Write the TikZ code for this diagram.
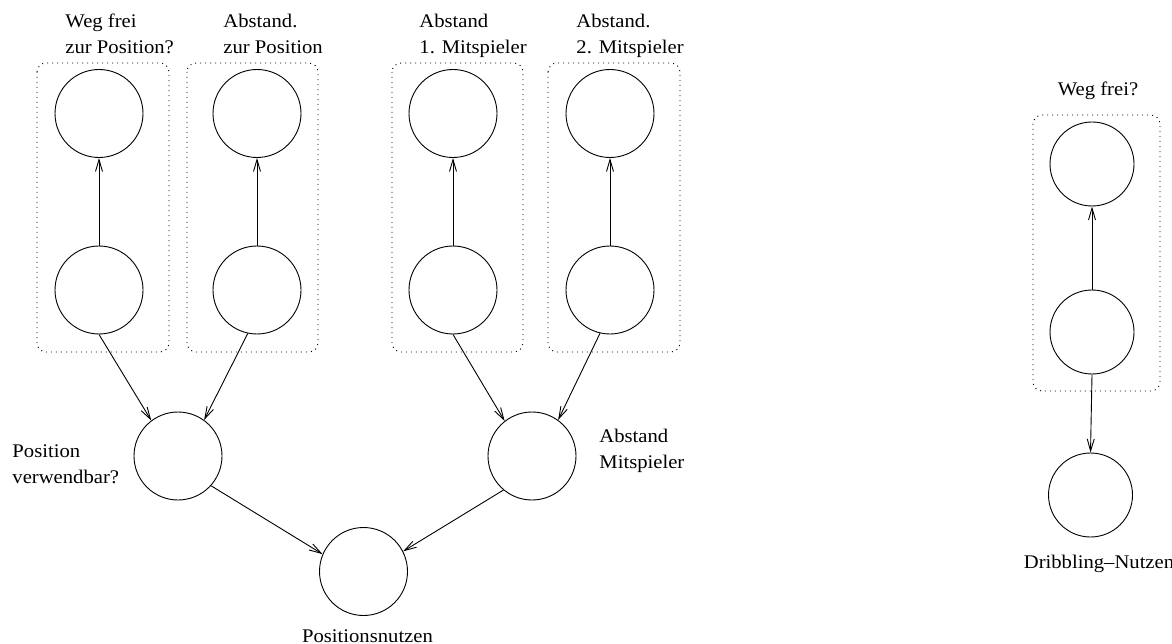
\documentclass[tikz,border=0pt]{standalone}
\usepackage{fontspec}
\usetikzlibrary{arrows.meta}
\newfontfamily\labfont[FakeStretch=1.07]{Liberation Serif}
\begin{document}
\begin{tikzpicture}[x=1pt,y=-1pt,
  every path/.style={line width=0.9pt},
  nd/.style={draw,circle,minimum size=88pt,inner sep=0pt},
  nds/.style={draw,circle,minimum size=84pt,inner sep=0pt},
  arr/.style={-{Straight Barb[length=12pt,width=7pt]}},
  dotbox/.style={draw,rounded corners=9pt,dash pattern=on 1pt off 4pt},
  lab/.style={font=\labfont\fontsize{19.3}{25.6}\selectfont,inner sep=0pt,align=left}]
\useasboundingbox (0,0) rectangle (1172,644);
% dotted groups
\draw[dotbox] (37,63) rectangle (169,352);
\draw[dotbox] (187,63) rectangle (318,352);
\draw[dotbox] (392,63) rectangle (523,352);
\draw[dotbox] (548,63) rectangle (680,352);
\draw[dotbox] (1033,115) rectangle (1160,391);
% nodes
\node[nd] (c1t) at (99,113.5) {};
\node[nd] (c1b) at (99,290) {};
\node[nd] (c2t) at (257,113.5) {};
\node[nd] (c2b) at (257,290) {};
\node[nd] (c3t) at (453,113.5) {};
\node[nd] (c3b) at (453,290) {};
\node[nd] (c4t) at (610,113.5) {};
\node[nd] (c4b) at (610,290) {};
\node[nd] (pv) at (178,456) {};
\node[nd] (am) at (532,456) {};
\node[nd] (pn) at (363.5,571.5) {};
\node[nds] (d1) at (1092,164) {};
\node[nds] (d2) at (1092,332) {};
\node[nds] (dn) at (1090.5,495) {};
% labels (base = baseline of last line)
\node[lab,anchor=base west] (l1) at (65,53.3) {Weg frei\\zur Position?};
\node[lab,anchor=base west] (l2) at (223,53.3) {Abstand.\\zur Position};
\node[lab,anchor=base west] (l3) at (419,53.3) {Abstand\\1. Mitspieler};
\node[lab,anchor=base west] (l4) at (576,53.3) {Abstand.\\2. Mitspieler};
\node[lab,anchor=base west] (lpv) at (12,483) {Position\\verwendbar?};
\node[lab,anchor=base west] (lam) at (599,468.5) {Abstand\\Mitspieler};
\node[lab,anchor=base] (lpn) at (367.5,642) {Positionsnutzen};
\node[lab,anchor=base] (lw) at (1098,96) {Weg frei?};
\node[lab,anchor=base] (ldn) at (1099,568) {Dribbling–Nutzen};
% connectors
\draw[arr] (c1b) -- (c1t);
\draw[arr] (c2b) -- (c2t);
\draw[arr] (c3b) -- (c3t);
\draw[arr] (c4b) -- (c4t);
\draw[arr] (d2) -- (d1);
\draw[arr] (c1b.south) -- (pv.127);
\draw[arr] (c2b.258) -- (pv.54);
\draw[arr] (c3b.south) -- (am.128);
\draw[arr] (c4b.257) -- (am.54);
\draw[arr] (pv.-42) -- (pn.157);
\draw[arr] (am.230) -- (pn.27);
\draw[arr] (d2.south) -- (dn.north);
\end{tikzpicture}
\end{document}
